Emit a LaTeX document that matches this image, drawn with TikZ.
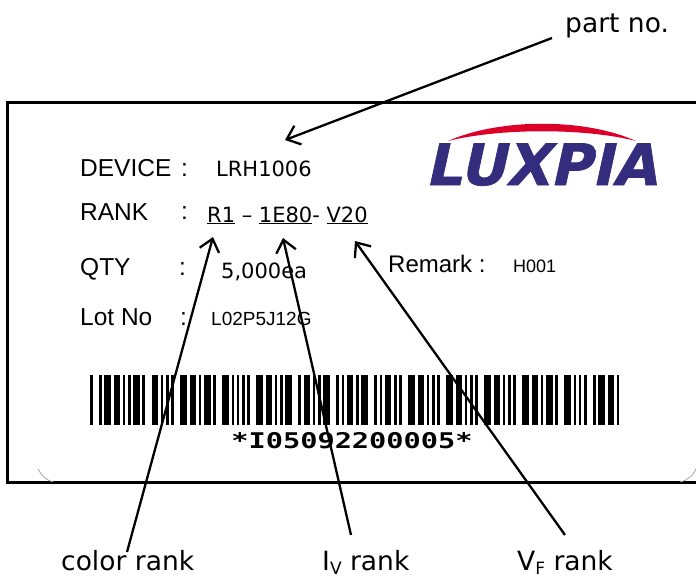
\documentclass[tikz,border=0pt]{standalone}
\usepackage{fontspec}
\setmainfont{DejaVu Sans}
\newfontfamily\labfont{Liberation Sans}
\newfontfamily\bcfont{DejaVu Sans Mono}
\newfontfamily\logofont[FakeSlant=0.22,FakeBold=1.2]{DejaVu Sans}
\usetikzlibrary{arrows.meta}
\definecolor{luxred}{RGB}{220,0,40}
\definecolor{luxblue}{RGB}{52,44,125}
\newcommand\fs[1]{\fontsize{#1}{#1}\selectfont}
% barcode helpers
\newdimen\bcx
\newcount\bcidx
\def\bcnarrow{2.6pt}
\def\bcwide{6.6pt}
\def\bcelem#1{%
  \ifnum#1=1 \def\bcw{\bcwide}\else\def\bcw{\bcnarrow}\fi
  \ifodd\bcidx\else\fill (\the\bcx,-375pt) rectangle ++(\bcw,-50pt);\fi
  \global\advance\bcx by \bcw\relax
  \global\advance\bcidx by 1\relax}
\def\bcrun#1{\ifx#1\relax\else\bcelem{#1}\expandafter\bcrun\fi}
\def\bcchar#1{\global\bcidx=0 \bcrun#1\relax\global\advance\bcx by \bcnarrow\relax}
\tikzset{
  txt/.style={inner sep=0pt, anchor=base west},
  lab/.style={txt, font=\labfont\fs{24.5}},
  val/.style={txt, font=\fs{21}},
  callout/.style={txt, font=\fs{26.5}},
  pointer/.style={line width=2.3pt, -{Straight Barb[length=12pt,width=20pt]}},
  frame/.style={line width=3pt},
}
\begin{document}
\begin{tikzpicture}[x=1pt,y=-1pt]
\useasboundingbox (0,0) rectangle (696,578);
\fill[white] (0,0) rectangle (696,578);

% label frame
\draw[frame] (698,102) -- (7,102) -- (7,482) -- (698,482);
\draw[gray!70, line width=0.8pt] (38,469) .. controls (42,476) and (46,480) .. (53,482);
\draw[gray!70, line width=0.8pt] (697,467) .. controls (693,476) and (688,480) .. (680,482);

% logo
\fill[luxred] (448,141) .. controls (500,118) and (585,118) .. (636,141)
              .. controls (585,128) and (500,128) .. (448,141) -- cycle;
\node[inner sep=0pt, anchor=base, text=luxblue, font=\logofont\bfseries\fs{57}] (logo) at (541,185) {LUXPIA};

% fields
\node[lab] (device) at (80,176) {DEVICE};
\node[lab] (c1) at (181,176) {:};
\node[val] (devval) at (216,176) {LRH1006};

\node[lab] (rank) at (80,220) {RANK};
\node[lab] (c2) at (181,219) {:};
\node[val] (rankval) at (207,222) {\underline{R1} – \underline{1E80}- \underline{V20}};

\node[lab] (qty) at (80,275) {QTY};
\node[lab] (c3) at (179,275) {:};
\node[val] (qtyval) at (221,278) {5,000ea};

\node[lab] (lot) at (80,325) {Lot No};
\node[lab] (c4) at (180,325) {:};
\node[txt, font=\labfont\fs{19}] (lotval) at (211,325) {L02P5J12G};

\node[txt, font=\labfont\fs{24}] (remark) at (388,272) {Remark :};
\node[txt, font=\labfont\fs{18}] (remval) at (513,272) {H001};

% barcode
\global\bcx=90pt
\bcchar{010010100}\bcchar{001001100}\bcchar{000110100}\bcchar{100110000}%
\bcchar{000110100}\bcchar{001100100}\bcchar{001100001}\bcchar{001100001}%
\bcchar{000110100}\bcchar{000110100}\bcchar{000110100}\bcchar{000110100}%
\bcchar{100110000}\bcchar{010010100}
\node[inner sep=0pt, anchor=base] (bctext) at (352,448)
  {\scalebox{1.39}[1.05]{\bcfont\bfseries\fs{20.6}*I05092200005*}};

% callout labels
\node[callout] (partno) at (565,33) {part no.};
\node[callout] (color) at (61,570) {color rank};
\node[callout] (iv) at (322,570) {I\raisebox{-4pt}{\fs{17}V} rank};
\node[callout] (vf) at (517,570) {V\raisebox{-4pt}{\fs{17}F} rank};

% connector ends
\coordinate (pnTail) at (552,38);
\coordinate (pnTip) at (285,140);
\coordinate (crTail) at (127,552);
\coordinate (crTip) at (213,237);
\coordinate (ivTail) at (351,535);
\coordinate (ivTip) at (283,238);
\coordinate (vfTail) at (565,535);
\coordinate (vfTip) at (355,241);

\draw[pointer] (pnTail) -- (pnTip);
\draw[pointer] (crTail) -- (crTip);
\draw[pointer] (ivTail) -- (ivTip);
\draw[pointer] (vfTail) -- (vfTip);
\end{tikzpicture}
\end{document}
